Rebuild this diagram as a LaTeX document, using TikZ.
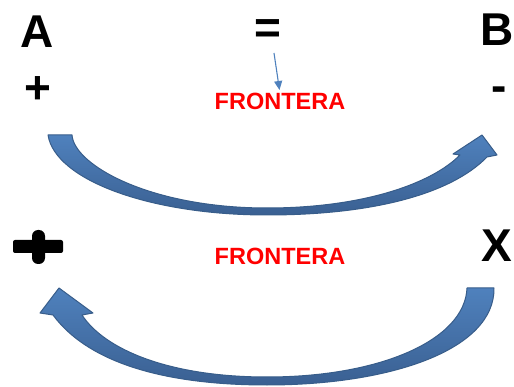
\documentclass[tikz,border=0pt]{standalone}
\usepackage{fontspec}
\setmainfont{Liberation Sans}
\usetikzlibrary{arrows.meta}
\definecolor{arrowfill}{RGB}{79,129,189}
\definecolor{arrowdark}{RGB}{58,96,146}
\definecolor{arrowline}{RGB}{56,93,138}
\definecolor{textred}{RGB}{255,0,0}
\tikzset{
  bigtxt/.style={inner sep=0pt, font=\fontsize{46}{50}\selectfont\bfseries},
  border/.style={inner sep=0pt, text=textred, font=\fontsize{23.5}{26}\selectfont\bfseries},
  blockarrow/.style={draw=arrowline, line width=1pt, line join=round, top color=arrowfill, bottom color=arrowdark},
  thinarrow/.style={draw=arrowfill, line width=1.1pt, -{Triangle[length=9pt,width=8pt]}}
}
\begin{document}
\begin{tikzpicture}[x=1pt,y=-1pt]
\useasboundingbox (0,0) rectangle (514,387);
% top row
\node[bigtxt] (A) at (37.5,31.5) {A};
\node[bigtxt] (eq) at (268,31.5) {=};
\node[bigtxt] (B) at (497,30) {B};
\node[bigtxt] (plus) at (37.5,90) {+};
\node[bigtxt] (minus) at (499.5,94) {-};
\node[border] (fr1) at (280,101) {FRONTERA};
\coordinate (s1) at (274,53);
\coordinate (t1) at (279.5,90);
\draw[thinarrow] (s1) -- (t1);
% upper curved arrow
\path[blockarrow] (48,135) -- (72,135)
  .. controls (74,165) and (150,208) .. (267,208)
  .. controls (360,208) and (430,185) .. (460,155)
  -- (453,154) -- (482,135) -- (497,155) -- (487,157)
  .. controls (450,195) and (370,215) .. (267,215)
  .. controls (150,215) and (55,180) .. (48,135) -- cycle;
% second row
\fill[black, rounded corners=2pt] (13,240) rectangle (63,253);
\fill[black, rounded corners=6pt] (32,230) rectangle (45,264);
\node[bigtxt] (X) at (497,246) {X};
\node[border] (fr2) at (280,256.5) {FRONTERA};
% lower curved arrow
\path[blockarrow] (494,288) -- (467,288)
  .. controls (465,340) and (380,377) .. (267,377)
  .. controls (170,377) and (105,350) .. (82,315)
  -- (93,313) -- (59,288) -- (40,313) -- (53,315)
  .. controls (90,365) and (170,385) .. (267,385)
  .. controls (390,385) and (495,350) .. (494,288) -- cycle;
\end{tikzpicture}
\end{document}
